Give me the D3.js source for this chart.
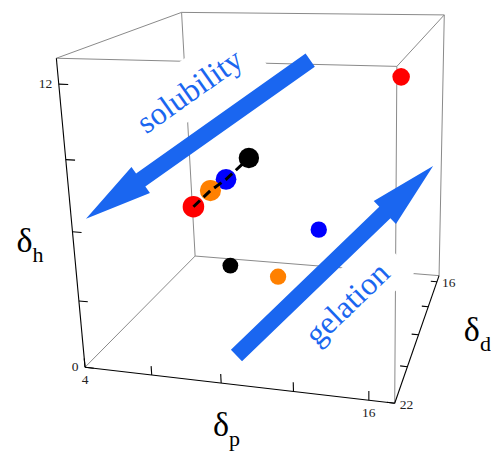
<!DOCTYPE html>
<html>
<head>
<meta charset="utf-8">
<script src="https://cdn.jsdelivr.net/npm/d3@7"></script>
<style>
  body { margin: 0; background: #fff; }
</style>
</head>
<body>
<svg></svg>
<script>
// ---- data (Hansen parameters) ----
var pTicks = [4, 7, 10, 13, 16];
var hTicks = [0, 3, 6, 9, 12];
var dTicks = [16, 17.5, 19, 20.5, 22];
var pLabels = [4, 16];
var hLabels = [0, 12];
var dLabels = [16, 22];

var colors = ['#ff0000', '#ff8000', '#0000ff', '#000000'];
// solvents (near the back wall)
var solventP = [15.15, 9.15, 11.05, 6.3];
var solventH = [10.2, 0, 2.3, 0];
var solventD = [16, 16.5, 16, 16.05];
// mixture path (near the front)
var mixP = [9.23, 9.57, 9.87, 10.52];
var mixH = [7.4, 7.75, 7.92, 8.55];
var mixD = [22, 21.5, 21, 20.5];

// annotation arrows, drawn on the front plane (dd = 22)
var arrowText = ['solubility', 'gelation'];
var arrowFromP = [13.93, 10.7], arrowFromH = [13.15, 1.3];
var arrowToP = [4.65, 18.3], arrowToH = [6.6, 9.5];

var width = 491, height = 453;
var blue = '#1a66f0';
var serif = '"Liberation Serif", "Times New Roman", serif';

var xS = d3.scaleLinear().domain([4, 17]).range([0, 1]);
var yS = d3.scaleLinear().domain([0, 13]).range([0, 1]);
var zS = d3.scaleLinear().domain([22, 15.6]).range([0, 1]);

// where the unit box corners land on screen -> perspective fit
var view = [
  [0, 0, 0, 85, 367], [1, 0, 0, 395, 403], [0, 1, 0, 56, 59], [1, 1, 0, 397, 66],
  [0, 0, 1, 195, 256], [1, 0, 1, 439, 276], [0, 1, 1, 182, 12], [1, 1, 1, 444, 15]
];

function fitView(pts) {
  var rows = [], rhs = [];
  pts.forEach(function (c) {
    var X = c[0], Y = c[1], Z = c[2], u = c[3], v = c[4];
    rows.push([X, Y, Z, 1, 0, 0, 0, 0, -u * X, -u * Y, -u * Z]); rhs.push(u);
    rows.push([0, 0, 0, 0, X, Y, Z, 1, -v * X, -v * Y, -v * Z]); rhs.push(v);
  });
  var n = 11, a = [];
  for (var i = 0; i < n; i++) {
    a[i] = [];
    for (var j = 0; j < n; j++) a[i][j] = d3.sum(rows, function (r) { return r[i] * r[j]; });
    a[i][n] = d3.sum(rows, function (r, k) { return r[i] * rhs[k]; });
  }
  for (var c = 0; c < n; c++) {
    var piv = c;
    for (var r = c + 1; r < n; r++) if (Math.abs(a[r][c]) > Math.abs(a[piv][c])) piv = r;
    var t = a[c]; a[c] = a[piv]; a[piv] = t;
    for (var r2 = 0; r2 < n; r2++) if (r2 !== c) {
      var f = a[r2][c] / a[c][c];
      for (var k = c; k <= n; k++) a[r2][k] -= f * a[c][k];
    }
  }
  return a.map(function (row, i) { return row[n] / row[i]; });
}
var m = fitView(view);

function project(p, h, d) {
  var X = xS(p), Y = yS(h), Z = zS(d);
  var den = m[8] * X + m[9] * Y + m[10] * Z + 1;
  return {
    x: (m[0] * X + m[1] * Y + m[2] * Z + m[3]) / den,
    y: (m[4] * X + m[5] * Y + m[6] * Z + m[7]) / den,
    den: den
  };
}

var svg = d3.select('svg').attr('width', width).attr('height', height)
  .style('font-family', serif);
var line = d3.line().x(function (q) { return q.x; }).y(function (q) { return q.y; });

// ---- box ----
var P = xS.domain(), H = yS.domain(), D = zS.domain();
var edges = [];
[0, 1].forEach(function (i) {
  [0, 1].forEach(function (j) {
    edges.push({ a: [P[0], H[i], D[j]], b: [P[1], H[i], D[j]], axis: i === 0 && j === 0 });
    edges.push({ a: [P[i], H[0], D[j]], b: [P[i], H[1], D[j]], axis: i === 0 && j === 0 });
    edges.push({ a: [P[i], H[j], D[0]], b: [P[i], H[j], D[1]], axis: i === 1 && j === 0 });
  });
});

svg.append('g').selectAll('path')
  .data(edges.filter(function (e) { return !e.axis; }))
  .enter().append('path')
  .attr('d', function (e) { return line([project.apply(null, e.a), project.apply(null, e.b)]); })
  .attr('stroke', '#8a8a8a').attr('stroke-width', 1).attr('fill', 'none');

var axes = svg.append('g').attr('stroke', '#000').attr('stroke-width', 1.1).attr('fill', 'none');
axes.selectAll('path.edge')
  .data(edges.filter(function (e) { return e.axis; }))
  .enter().append('path').attr('class', 'edge')
  .attr('d', function (e) { return line([project.apply(null, e.a), project.apply(null, e.b)]); });

axes.selectAll('path.pt').data(pTicks).enter().append('path').attr('class', 'pt')
  .attr('d', function (t) { return line([project(t, 0, 22), project(t, 0.4, 22)]); });
axes.selectAll('path.ht').data(hTicks).enter().append('path').attr('class', 'ht')
  .attr('d', function (t) { return line([project(4, t, 22), project(4.4, t, 22)]); });
axes.selectAll('path.dt').data(dTicks).enter().append('path').attr('class', 'dt')
  .attr('d', function (t) { return line([project(17, 0, t), project(16.7, 0, t)]); });

var labels = svg.append('g').attr('font-size', 13.5).attr('fill', '#222');
labels.selectAll('text.pl').data(pLabels).enter().append('text')
  .attr('x', function (t) { return project(t, 0, 22).x; })
  .attr('y', function (t) { return project(t, 0, 22).y + 17; })
  .attr('text-anchor', 'middle').text(String);
labels.selectAll('text.hl').data(hLabels).enter().append('text')
  .attr('x', function (t) { return project(4, t, 22).x - 6.5; })
  .attr('y', function (t) { return project(4, t, 22).y + 4; })
  .attr('text-anchor', 'end').text(String);
labels.selectAll('text.dl').data(dLabels).enter().append('text')
  .attr('x', function (t) { return project(17, 0, t).x + 5; })
  .attr('y', function (t) { return project(17, 0, t).y + 5.5; })
  .attr('text-anchor', 'start').text(String);

// axis titles
function title(anchor, dx, dy, sub) {
  var t = svg.append('text').attr('x', anchor.x + dx).attr('y', anchor.y + dy)
    .attr('font-size', 34).attr('fill', '#000');
  t.append('tspan').text('δ');
  t.append('tspan').attr('font-size', 22).attr('dy', 10).text(sub);
}
title(project(4, 6.5, 22), -55, 32, 'h');
title(project(10.5, 0, 22), -20, 52, 'p');
title(project(17, 0, 18.8), 44, 10, 'd');

// ---- points ----
var ref = project(10.5, 6.5, 22).den;
var pts = [];
colors.forEach(function (c, i) {
  pts.push({ c: c, q: project(solventP[i], solventH[i], solventD[i]) });
  pts.push({ c: c, q: project(mixP[i], mixH[i], mixD[i]) });
});
pts.sort(function (a, b) { return b.q.den - a.q.den; });

svg.append('g').selectAll('circle').data(pts).enter().append('circle')
  .attr('cx', function (d) { return d.q.x; })
  .attr('cy', function (d) { return d.q.y; })
  .attr('r', function (d) { return 10.8 * ref / d.q.den; })
  .attr('fill', function (d) { return d.c; });

var mixPts = mixP.map(function (p, i) { return project(p, mixH[i], mixD[i]); });
svg.append('path').attr('d', line(mixPts))
  .attr('fill', 'none').attr('stroke', '#000').attr('stroke-width', 3)
  .attr('stroke-dasharray', '9,5');

// ---- arrows with labels ----
arrowText.forEach(function (txt, i) {
  var a = project(arrowFromP[i], arrowFromH[i], 22);
  var b = project(arrowToP[i], arrowToH[i], 22);
  var len = Math.hypot(b.x - a.x, b.y - a.y);
  var dx = (b.x - a.x) / len, dy = (b.y - a.y) / len;
  var nx = -dy, ny = dx;
  var hl = 67, hw = 16, sw = 8;
  var bx = b.x - dx * hl, by = b.y - dy * hl;

  // reading direction always left to right
  var rx = dx < 0 ? -dx : dx, ry = dx < 0 ? -dy : dy;
  var ux = ry, uy = -rx;
  var side = i === 0 ? 1 : -1;
  var mx = (a.x + b.x) / 2, my = (a.y + b.y) / 2;
  var tailDir = dx < 0 ? 1 : -1;
  var cx = mx + rx * 21 * tailDir + ux * 42 * side;
  var cy = my + ry * 21 * tailDir + uy * 42 * side;
  var ang = Math.atan2(ry, rx) * 180 / Math.PI;

  var g = svg.append('g').attr('transform', 'translate(' + cx + ',' + cy + ') rotate(' + ang + ')');
  var bg = g.append('rect').attr('fill', '#fff');
  var t = g.append('text').attr('y', 8).attr('text-anchor', 'middle')
    .attr('font-size', 32).attr('fill', blue).text(txt);
  var w = t.node().getComputedTextLength();
  bg.attr('x', -w / 2 - 18).attr('width', w + 36).attr('y', -32).attr('height', 54);

  svg.append('path')
    .attr('d', line([
      { x: a.x + nx * sw, y: a.y + ny * sw }, { x: bx + nx * sw, y: by + ny * sw },
      { x: bx + nx * hw, y: by + ny * hw }, { x: b.x, y: b.y },
      { x: bx - nx * hw, y: by - ny * hw }, { x: bx - nx * sw, y: by - ny * sw },
      { x: a.x - nx * sw, y: a.y - ny * sw }
    ]) + 'Z')
    .attr('fill', blue);
});
</script>
</body>
</html>
